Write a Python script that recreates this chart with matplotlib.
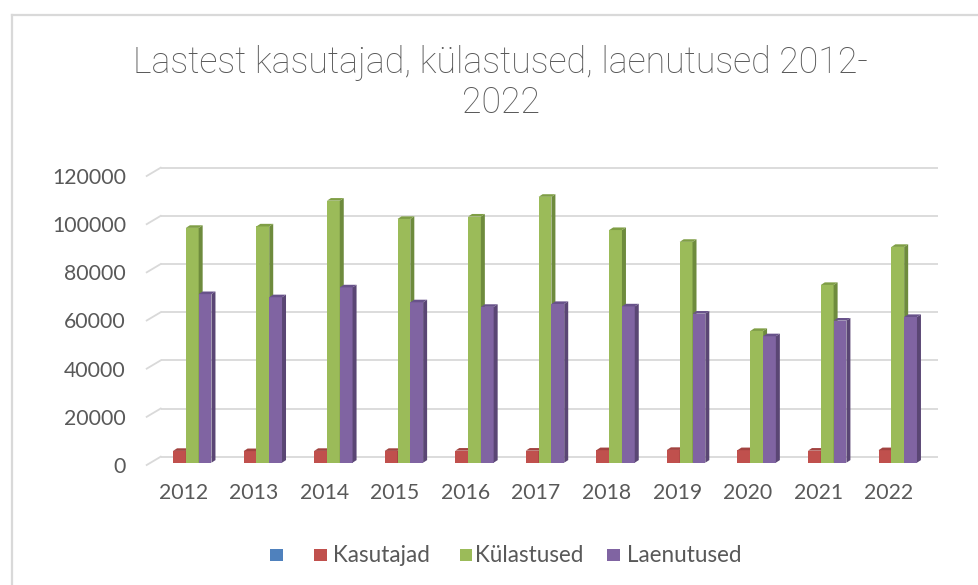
import matplotlib
matplotlib.use("Agg")
import matplotlib.pyplot as plt
from matplotlib.patches import Rectangle, Polygon
from matplotlib.lines import Line2D
from matplotlib.transforms import ScaledTranslation

# ---------------- data ----------------
years = ['2012', '2013', '2014', '2015', '2016', '2017', '2018', '2019', '2020', '2021', '2022']
kasutajad = [4900, 4800, 4900, 4900, 5000, 5000, 5200, 5300, 5200, 5000, 5200]
kulastused = [97500, 98100, 108800, 101200, 102200, 110400, 96600, 91700, 54700, 73800, 89600]
laenutused = [70000, 68700, 72800, 66600, 64700, 65900, 64900, 61900, 52500, 59000, 60500]
series_names = ['', 'Kasutajad', 'Külastused', 'Laenutused']
yticks = [0, 20000, 40000, 60000, 80000, 100000, 120000]
yticklabels = ['0', '20000', '40000', '60000', '80000', '100000', '120000']
title_lines = ['Lastest kasutajad, külastused, laenutused 2012-', '2022']

# ---------------- style ----------------
W, H, DPI = 979, 585, 100
FONT = 'Lato'
TFONT = 'Roboto'
TXT = '#595959'
GRID = '#d9d9d9'
front = ['#4F81BD', '#C0504D', '#9BBB59', '#8064A2']
side = ['#3A6190', '#8E3A37', '#6E8B3D', '#5A4674']
top = ['#46709F', '#A24340', '#7F9E45', '#68528A']

fig = plt.figure(figsize=(W / DPI, H / DPI), dpi=DPI)
fig.patch.set_facecolor('white')
renderer = fig.canvas.get_renderer()


def fx(px):
    return px / W


def fy(py):
    return 1 - py / H


def fit(txt, target_px, family=FONT, weight='normal'):
    t = fig.text(0, 0, txt, fontsize=10, family=family, fontweight=weight)
    w = t.get_window_extent(renderer).width
    t.remove()
    return 10 * target_px / w


# chart border (open to right / bottom like the screenshot crop)
fig.add_artist(Line2D([fx(11.5), fx(11.5)], [fy(14.5), fy(585)], color=GRID, lw=1.6,
                      transform=fig.transFigure))
fig.add_artist(Line2D([fx(11.5), fx(979)], [fy(14.5), fy(14.5)], color=GRID, lw=1.6,
                      transform=fig.transFigure))

# axes in bar plane
x0p, x1p, y0p, y1p = 150.7, 928.0, 462.7, 173.7
ax = fig.add_axes([fx(x0p), fy(y0p), fx(x1p - x0p), (y0p - y1p) / H])
ax.set_facecolor('none')
for s in ax.spines.values():
    s.set_visible(False)
xmin = -(183.3 - x0p) / 70.55
xmax = (x1p - 183.3) / 70.55
ax.set_xlim(xmin, xmax)
ax.set_ylim(0, 120000)

# pixel -> data unit conversion through the axes transforms
p0 = ax.transData.transform((0, 0))
p1 = ax.transData.transform((1, 20000))
ux = 1.0 / (p1[0] - p0[0])          # data x per px
uy = 20000.0 / (p1[1] - p0[1])      # data y per px

# gridlines on the back wall + slanted floor edge
for v in yticks:
    ax.plot([xmin + 10 * ux, xmax + 10 * ux], [v + 6 * uy, v + 6 * uy], color=GRID,
            lw=1.3, clip_on=False, zorder=0, solid_capstyle='butt')
    ax.plot([xmin - 4 * ux, xmin + 10 * ux], [v - 2.3 * uy, v + 6 * uy], color=GRID,
            lw=1.3, clip_on=False, zorder=0)

# bars
w = 12.8 * ux
offsets = [-1.3, -0.3, 0.7, 1.7]
dx, dy = 4 * ux, 2.6 * uy
data = [None, kasutajad, kulastused, laenutused]
z = 2
for i in range(len(years)):
    for k in (1, 2, 3):
        v = data[k][i]
        xc = i + offsets[k] * w
        xl, xr = xc - w / 2, xc + w / 2
        ax.bar(xc, v, width=w, color=front[k], zorder=z, linewidth=0)
        ax.add_patch(Polygon([(xr, 0), (xr + dx, dy), (xr + dx, v + dy), (xr, v)],
                             closed=True, facecolor=side[k], edgecolor='none',
                             zorder=z, clip_on=False))
        ax.add_patch(Polygon([(xl, v), (xl + dx, v + dy), (xr + dx, v + dy), (xr, v)],
                             closed=True, facecolor=top[k], edgecolor='none',
                             zorder=z, clip_on=False))
        z += 1

# ticks
fs_tick = fit('120000', 74)
ax.set_yticks(yticks)
ax.set_yticklabels(yticklabels, family=FONT, fontsize=fs_tick, color=TXT)
ax.tick_params(axis='y', length=0, pad=(x0p - 126) * 72 / DPI)
for lab in ax.get_yticklabels():
    lab.set_transform(lab.get_transform() + ScaledTranslation(0, -2.3 / DPI, fig.dpi_scale_trans))
ax.set_xticks(range(len(years)))
ax.set_xticklabels(years, family=FONT, fontsize=fs_tick, color=TXT)
ax.tick_params(axis='x', length=0, pad=20 * 72 / DPI)

# title
fs_title = fit(title_lines[0], 737, TFONT, 'light')
fig.text(fx(501), fy(63), title_lines[0], ha='center', va='center', family=TFONT,
         fontweight='light', fontsize=fs_title, color=TXT)
fig.text(fx(501), fy(103), title_lines[1], ha='center', va='center', family=TFONT,
         fontweight='light', fontsize=fs_title, color=TXT)

# legend
fs_leg = fit('Kasutajad', 97)
marker_x = [270, 314, 460, 607]
text_x = [None, 333, 475, 627]
ly = 555
for k in range(4):
    fig.add_artist(Rectangle((fx(marker_x[k]), fy(ly + 6)), fx(12.5), 12.5 / H,
                             facecolor=front[k], edgecolor='none', transform=fig.transFigure))
    if series_names[k]:
        fig.text(fx(text_x[k]), fy(ly), series_names[k], ha='left', va='center',
                 family=FONT, fontsize=fs_leg, color=TXT)

fig.savefig('out.png', dpi=DPI)
